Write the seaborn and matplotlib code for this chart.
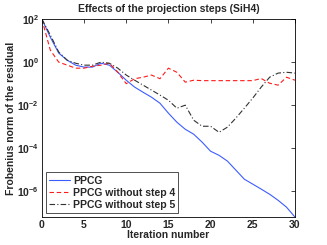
import numpy as np
import pandas as pd
import matplotlib
matplotlib.use("Agg")
import matplotlib.pyplot as plt
import matplotlib.ticker as mticker
import seaborn as sns

sns.set_style("white")
plt.rcParams["font.family"] = ["Liberation Sans", "DejaVu Sans"]

# ---------------------------------------------------------------------------
# Data (log10 of the residual norm)
# ---------------------------------------------------------------------------
iterations = list(range(0, 31))
log_ppcg = [2.0, 1.16, 0.42, 0.09, -0.14, -0.23, -0.23, -0.05, -0.14, -0.47,
            -0.84, -1.16, -1.40, -1.63, -1.91, -2.37, -2.79, -3.12, -3.35, -3.72,
            -4.14, -4.33, -4.60, -5.02, -5.44, -5.67, -5.90, -6.14, -6.42, -6.74,
            -7.20]
log_no_step4 = [2.0, 0.56, 0.0, -0.14, -0.28, -0.28, -0.19, -0.14, -0.05, -0.47,
                -1.0, -0.77, -0.70, -0.60, -0.77, -0.28, -0.47, -0.93, -0.84, -0.86,
                -0.86, -0.86, -0.86, -0.86, -0.86, -0.86, -0.76, -0.98, -1.07, -0.70,
                -0.84]
log_no_step5 = [2.0, 1.26, 0.47, 0.09, -0.05, -0.14, -0.14, 0.0, -0.05, -0.28,
                -0.60, -0.84, -1.07, -1.30, -1.53, -1.77, -2.14, -2.0, -2.70, -2.98,
                -2.98, -3.26, -3.02, -2.60, -2.14, -1.67, -1.16, -0.70, -0.51, -0.47,
                -0.51]
labels = ["PPCG", "PPCG without step 4", "PPCG without step 5"]
colors = ["#3d5cff", "#ff1a1a", "#333333"]
dashes = [(None, None), (4, 2.5), (5, 2, 1, 2)]

df = pd.DataFrame({
    "iter": iterations * 3,
    "res": np.power(10.0, log_ppcg + log_no_step4 + log_no_step5),
    "method": sum([[lab] * len(iterations) for lab in labels], []),
})

# ---------------------------------------------------------------------------
# Plot
# ---------------------------------------------------------------------------
fig = plt.figure(figsize=(3.27, 2.45), dpi=100)
ax = fig.add_axes([0.128, 0.114, 0.774, 0.808])

for lab, col, dsh in zip(labels, colors, dashes):
    sub = df[df["method"] == lab]
    sns.lineplot(data=sub, x="iter", y="res", ax=ax, color=col, lw=0.8, label=lab)
    if dsh[0] is not None:
        ax.lines[-1].set_dashes(dsh)

ax.set_yscale("log")
ax.set_xlim(0, 30)
ax.set_ylim(10 ** -7.2, 1e2)
ax.set_xticks(range(0, 31, 5))
ax.yaxis.set_major_locator(mticker.FixedLocator([1e-6, 1e-4, 1e-2, 1e0, 1e2]))
ax.yaxis.set_minor_locator(mticker.NullLocator())
ax.tick_params(direction="in", length=3, width=0.6, top=True, right=True,
               labelsize=7.5, pad=2)
for lbl in ax.get_xticklabels() + ax.get_yticklabels():
    lbl.set_fontweight("bold")
for sp in ax.spines.values():
    sp.set_linewidth(0.6)
    sp.set_color("black")

ax.set_xlabel("Iteration number", fontsize=7.5, fontweight="bold", labelpad=0)
ax.set_ylabel("Frobenius norm of the residual", fontsize=7.5, fontweight="bold", labelpad=1)
ax.set_title("Effects of the projection steps (SiH4)", fontsize=7.5, fontweight="bold", pad=5)

leg = ax.legend(loc="lower left", frameon=True, fancybox=False,
                borderpad=0.3, handlelength=2.0, handletextpad=0.3, labelspacing=0.2,
                borderaxespad=0.4, prop={"weight": "bold", "size": 7.5})
leg.get_frame().set_edgecolor("black")
leg.get_frame().set_linewidth(0.6)

fig.savefig("out.png", dpi=100)
